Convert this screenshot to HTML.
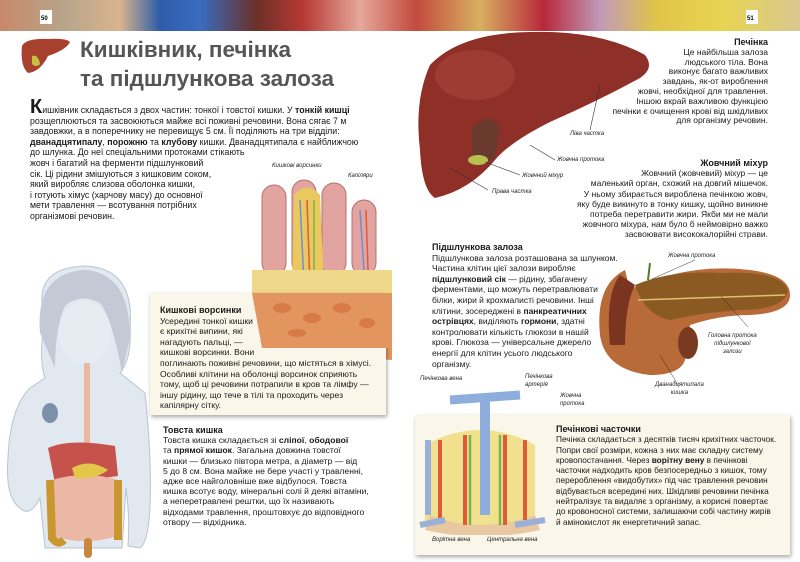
<!DOCTYPE html>
<html><head><meta charset="utf-8">
<style>
*{margin:0;padding:0;box-sizing:border-box}
body{width:800px;height:562px;overflow:hidden;background:#fff;font-family:"Liberation Sans","DejaVu Sans",sans-serif;color:#1a1a1a;position:relative}
.a{position:absolute;white-space:nowrap}
.t{font-size:8.6px;line-height:10.6px}
.r{text-align:right}
b{font-weight:bold}
.h{font-weight:bold;font-size:9px}
.lbl{position:absolute;font-size:6px;font-style:italic;color:#222;white-space:nowrap}
.box{position:absolute;background:#fbf6ea;box-shadow:1px 2px 4px rgba(0,0,0,.35)}
</style></head><body>
<svg class="a" style="left:0;top:0" width="800" height="31">
<defs><linearGradient id="g1" x1="0" x2="1">
<stop offset="0" stop-color="#c9886a"/><stop offset=".08" stop-color="#b7a58a"/><stop offset=".15" stop-color="#d9b48f"/>
<stop offset=".2" stop-color="#2d5da8"/><stop offset=".25" stop-color="#3a6cc0"/><stop offset=".32" stop-color="#6a3028"/>
<stop offset=".38" stop-color="#b83a35"/><stop offset=".45" stop-color="#e5a89a"/><stop offset=".52" stop-color="#c34a3e"/>
<stop offset=".6" stop-color="#d8b060"/><stop offset=".68" stop-color="#b8283a"/><stop offset=".75" stop-color="#c09ab8"/>
<stop offset=".82" stop-color="#e0c44a"/><stop offset=".9" stop-color="#e8d450"/><stop offset="1" stop-color="#d9c890"/></linearGradient></defs>
<rect width="800" height="31" fill="url(#g1)"/>
<rect x="40" y="10" width="12" height="14" fill="#fff"/><text x="41" y="20" font-size="6" font-weight="bold" font-family="Liberation Sans">50</text>
<rect x="746" y="10" width="12" height="14" fill="#fff"/><text x="747" y="20" font-size="6" font-weight="bold" font-family="Liberation Sans">51</text>
</svg>
<svg class="a" style="left:18;top:36" width="55" height="40"><path d="M4 10 Q8 2 30 3 Q48 2 52 6 Q48 14 30 20 Q22 36 10 37 Q2 30 4 10Z" fill="#a8402e"/><path d="M14 20 Q20 18 22 28 Q18 32 14 28Z" fill="#c9c040"/></svg>
<div class="a" style="left:80px;top:35px;font-size:22.5px;line-height:29px;font-weight:bold;color:#555">Кишківник, печінка<br>та підшлункова залоза</div>
<div class="a t" style="left:30px;top:100px;font-size:8.8px">
<div><span style="font-size:20px;font-weight:bold;line-height:14px">К</span>ишківник складається з двох частин: тонкої і товстої кишки. У <b>тонкій кишці</b></div>
<div>розщеплюються та засвоюються майже всі поживні речовини. Вона сягає 7 м</div>
<div>завдовжки, а в поперечнику не перевищує 5 см. Її поділяють на три відділи:</div>
<div><b>дванадцятипалу</b>, <b>порожню</b> та <b>клубову</b> кишки. Дванадцятипала є найближчою</div>
<div>до шлунка. До неї спеціальними протоками стікають</div>
<div>жовч і багатий на ферменти підшлунковий</div>
<div>сік. Ці рідини змішуються з кишковим соком,</div>
<div>який виробляє слизова оболонка кишки,</div>
<div>і готують хімус (харчову масу) до основної</div>
<div>мети травлення — всотування потрібних</div>
<div>організмові речовин.</div>
</div>
<svg class="a" style="left:0;top:258" width="160" height="300">
<path d="M45 60 Q30 10 85 8 Q135 10 130 70 Q132 100 120 115 L145 135 Q152 200 150 250 Q148 285 140 290 L128 288 Q130 260 126 230 L122 290 L45 290 L40 240 Q30 260 20 250 Q5 240 8 200 Q10 150 30 130 L45 120 Q38 100 45 60Z" fill="#e1e8ef" stroke="#b9c4d2"/>
<path d="M40 75 Q35 15 85 12 Q130 15 130 80 L122 115 Q112 60 100 45 Q80 35 65 48 Q55 70 55 110 Z" fill="#c3cad6"/>
<ellipse cx="85" cy="75" rx="26" ry="32" fill="#e6ecf2"/>
<ellipse cx="50" cy="155" rx="8" ry="10" fill="#7d90aa"/>
<rect x="84" y="105" width="6" height="80" fill="#e8b8a0"/>
<path d="M48 190 Q70 180 115 188 L118 218 Q90 222 55 225Z" fill="#c6524c"/>
<path d="M52 222 Q85 212 118 222 L118 278 Q85 288 52 278Z" fill="#eab8a4"/>
<path d="M50 222 L52 280 Q58 288 64 282 M118 222 L118 282" stroke="#c99630" stroke-width="8" fill="none"/>
<path d="M72 210 Q90 200 108 212 Q95 222 75 220Z" fill="#e3c64a"/>
<rect x="84" y="280" width="8" height="20" rx="4" fill="#c9863e"/>
</svg>
<svg class="a" style="left:252;top:175" width="150" height="190">
<g fill="#e2a4a0" stroke="#b6706c"><rect x="10" y="10" width="24" height="90" rx="12"/><rect x="40" y="5" width="24" height="95" rx="12"/><rect x="70" y="8" width="24" height="92" rx="12"/><rect x="100" y="25" width="24" height="75" rx="12"/></g>
<path d="M42 20 Q55 5 68 20 L72 110 L40 110Z" fill="#e9c860"/>
<g stroke-width="1.5" fill="none"><path d="M48 25 L52 110" stroke="#6d8fd0"/><path d="M55 25 L58 110" stroke="#e05a3a"/><path d="M62 25 L62 110" stroke="#7ab54a"/><path d="M108 35 L112 95" stroke="#6d8fd0"/><path d="M114 35 L116 95" stroke="#e05a3a"/></g>
<path d="M0 95 L140 95 L140 185 L0 175Z" fill="#e39560"/>
<rect x="0" y="95" width="140" height="35" fill="#efd88a"/>
<path d="M0 135 L140 140" stroke="#7ab54a" stroke-width="3"/><path d="M0 128 L140 132" stroke="#6d8fd0" stroke-width="2"/>
<g fill="#d77a48"><ellipse cx="15" cy="150" rx="8" ry="5"/><ellipse cx="40" cy="155" rx="9" ry="5"/><ellipse cx="65" cy="150" rx="8" ry="5"/><ellipse cx="90" cy="158" rx="9" ry="5"/><ellipse cx="115" cy="152" rx="8" ry="5"/><ellipse cx="25" cy="168" rx="8" ry="4"/><ellipse cx="75" cy="170" rx="9" ry="4"/></g>
</svg>
<div class="lbl" style="left:272px;top:163px">Кишкові ворсинки</div>
<div class="lbl" style="left:348px;top:173px">Капіляри</div>
<div class="box" style="left:150px;top:293px;width:236px;height:122px"></div>
<svg class="a" style="left:252;top:293" width="140" height="60"><path d="M0 0 L140 0 L140 55 L10 55Z" fill="#e39560"/><g fill="#d77a48"><ellipse cx="30" cy="15" rx="9" ry="5"/><ellipse cx="60" cy="25" rx="9" ry="5"/><ellipse cx="90" cy="15" rx="9" ry="5"/><ellipse cx="115" cy="30" rx="8" ry="5"/><ellipse cx="45" cy="40" rx="9" ry="4"/></g></svg>
<div class="a t" style="left:160px;top:305px">
<div class="h">Кишкові ворсинки</div>
<div>Усередині тонкої кишки</div><div>є крихітні випини, які</div><div>нагадують пальці, —</div><div>кишкові ворсинки. Вони</div>
<div>поглинають поживні речовини, що містяться в хімусі.</div>
<div>Особливі клітини на оболонці ворсинок сприяють</div>
<div>тому, щоб ці речовини потрапили в кров та лімфу —</div>
<div>іншу рідину, що тече в тілі та проходить через</div>
<div>капілярну сітку.</div></div>
<div class="a t" style="left:163px;top:425px;line-height:10.2px">
<div class="h">Товста кишка</div>
<div>Товста кишка складається зі <b>сліпої</b>, <b>ободової</b></div>
<div>та <b>прямої кишок</b>. Загальна довжина товстої</div>
<div>кишки — близько півтора метра, а діаметр — від</div>
<div>5 до 8 см. Вона майже не бере участі у травленні,</div>
<div>адже все найголовніше вже відбулося. Товста</div>
<div>кишка всотує воду, мінеральні солі й деякі вітаміни,</div>
<div>а неперетравлені рештки, що їх називають</div>
<div>відходами травлення, проштовхує до відповідного</div>
<div>отвору — відхідника.</div></div>
<svg class="a" style="left:400;top:30" width="260" height="175">
<path d="M30 35 Q60 3 130 2 Q200 0 245 25 Q255 38 240 48 Q200 70 150 92 Q110 112 95 130 Q70 160 35 168 Q22 160 20 120 Q14 70 30 35Z" fill="#8e2f28"/>
<ellipse cx="75" cy="45" rx="40" ry="25" fill="#a9463c" opacity=".6"/>
<path d="M72 98 Q90 80 100 98 L95 128 Q85 135 72 125Z" fill="#6b3a2e"/>
<ellipse cx="78" cy="130" rx="10" ry="5" fill="#b8c050"/>
<g stroke="#333" stroke-width=".6"><line x1="200" y1="55" x2="190" y2="100"/><line x1="130" y1="115" x2="155" y2="130"/><line x1="85" y1="132" x2="120" y2="145"/><line x1="50" y1="138" x2="88" y2="160"/></g>
</svg>
<div class="lbl" style="left:570px;top:131px">Ліва частка</div>
<div class="lbl" style="left:557px;top:157px">Жовчна протока</div>
<div class="lbl" style="left:522px;top:173px">Жовчний міхур</div>
<div class="lbl" style="left:492px;top:189px">Права частка</div>
<div class="a t r" style="right:32px;top:38px;line-height:9.8px;font-size:8.5px">
<div class="h">Печінка</div>
<div>Це найбільша залоза</div><div>людського тіла. Вона</div><div>виконує багато важливих</div><div>завдань, як-от вироблення</div><div>жовчі, необхідної для травлення.</div><div>Іншою вкрай важливою функцією</div><div>печінки є очищення крові від шкідливих</div><div>для організму речовин.</div></div>
<div class="a t r" style="right:32px;top:158px;line-height:10.2px;font-size:8.5px">
<div class="h">Жовчний міхур</div>
<div>Жовчний (жовчевий) міхур — це</div><div>маленький орган, схожий на довгий мішечок.</div><div>У ньому збирається вироблена печінкою жовч,</div><div>яку буде викинуто в тонку кишку, щойно виникне</div><div>потреба перетравити жири. Якби ми не мали</div><div>жовчного міхура, нам було б неймовірно важко</div><div>засвоювати висококалорійні страви.</div></div>
<div class="a t" style="left:432px;top:242px;line-height:10.6px;font-size:8.5px">
<div class="h">Підшлункова залоза</div>
<div>Підшлункова залоза розташована за шлунком.</div><div>Частина клітин цієї залози виробляє</div><div><b>підшлунковий сік</b> — рідину, збагачену</div><div>ферментами, що можуть перетравлювати</div><div>білки, жири й крохмалисті речовини. Інші</div><div>клітини, зосереджені в <b>панкреатичних</b></div><div><b>острівцях</b>, виділяють <b>гормони</b>, здатні</div><div>контролювати кількість глюкози в нашій</div><div>крові. Глюкоза — універсальне джерело</div><div>енергії для клітин усього людського</div><div>організму.</div></div>
<svg class="a" style="left:590;top:255" width="210" height="130">
<path d="M35 15 Q5 30 10 80 Q15 115 60 120 Q90 120 95 105 L100 70 Q130 60 160 60 Q200 58 200 40 Q200 20 160 15 Q120 10 80 20 Q55 25 40 35Z" fill="#b86a38"/>
<path d="M45 30 Q80 15 130 18 Q190 15 198 35 Q195 55 150 55 Q110 58 80 65 Q55 60 45 30Z" fill="#8a5a22"/>
<path d="M48 45 L195 40" stroke="#e0c070" stroke-width="1.5"/>
<path d="M30 20 Q15 40 20 90 L35 90 Q35 50 45 30Z" fill="#7a3420"/>
<ellipse cx="98" cy="88" rx="10" ry="16" fill="#7a3a22"/>
<line x1="60" y1="8" x2="58" y2="25" stroke="#5a7a2a" stroke-width="2"/>
<g stroke="#333" stroke-width=".5"><line x1="62" y1="24" x2="105" y2="5"/><line x1="130" y1="40" x2="158" y2="72"/><line x1="70" y1="100" x2="88" y2="130"/></g>
</svg>
<div class="lbl" style="left:668px;top:253px">Жовчна протока</div>
<div class="lbl" style="left:708px;top:332px;text-align:center;line-height:8px">Головна протока<br>підшлункової<br>залози</div>
<div class="lbl" style="left:655px;top:381px;text-align:center;line-height:8px">Дванадцятипала<br>кишка</div>
<div class="box" style="left:415px;top:415px;width:375px;height:140px"></div>
<svg class="a" style="left:410;top:385" width="140" height="150">
<path d="M15 60 Q70 30 125 60 L125 140 Q70 150 15 140Z" fill="#f1e08e"/>
<path d="M20 130 Q70 150 125 130 L130 145 Q70 158 15 145Z" fill="#e8c8a0"/>
<rect x="70" y="10" width="10" height="120" fill="#8daedc"/>
<path d="M40 15 L110 10" stroke="#8daedc" stroke-width="9"/>
<g stroke="#e05a3a" stroke-width="4"><line x1="30" y1="55" x2="30" y2="135"/><line x1="115" y1="55" x2="115" y2="135"/><line x1="55" y1="50" x2="55" y2="140"/><line x1="95" y1="50" x2="95" y2="140"/></g>
<g stroke="#7ab54a" stroke-width="2.5"><line x1="60" y1="50" x2="60" y2="140"/><line x1="90" y1="50" x2="90" y2="140"/></g>
<g stroke="#9ab0d8" stroke-width="6"><line x1="10" y1="140" x2="35" y2="135"/><line x1="105" y1="140" x2="135" y2="135"/><line x1="18" y1="55" x2="18" y2="130"/></g>
</svg>
<div class="lbl" style="left:420px;top:376px">Печінкова вена</div>
<div class="lbl" style="left:525px;top:373px;line-height:8px">Печінкова<br>артерія</div>
<div class="lbl" style="left:560px;top:392px;line-height:8px">Жовчна<br>протока</div>
<div class="lbl" style="left:432px;top:537px">Ворітна вена</div>
<div class="lbl" style="left:487px;top:537px">Центральна вена</div>
<div class="a t" style="left:556px;top:424px;line-height:10.3px;font-size:8.3px">
<div class="h">Печінкові часточки</div>
<div>Печінка складається з десятків тисяч крихітних часточок.</div><div>Попри свої розміри, кожна з них має складну систему</div><div>кровопостачання. Через <b>ворітну вену</b> в печінкові</div><div>часточки надходить кров безпосередньо з кишок, тому</div><div>перероблення «видобутих» під час травлення речовин</div><div>відбувається всередині них. Шкідливі речовини печінка</div><div>нейтралізує та видаляє з організму, а корисні повертає</div><div>до кровоносної системи, залишаючи собі частину жирів</div><div>й амінокислот як енергетичний запас.</div></div>
</body></html>
